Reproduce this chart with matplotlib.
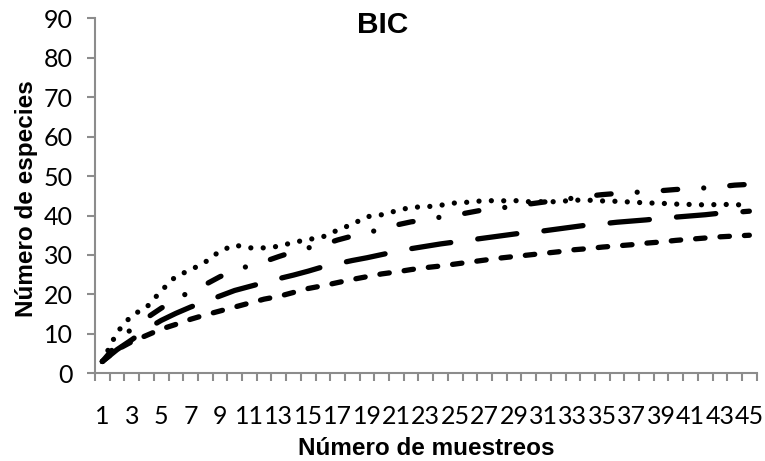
import matplotlib
matplotlib.use("Agg")
import matplotlib.pyplot as plt

# data (BIC)
muestreos = list(range(1, 46))

serie_puntos = [3, 10.4, 14.7, 16.7, 20.9, 24.6, 26.2, 28.2, 31.0, 32.5,
                31.8, 31.8, 32.2, 33.2, 33.9, 34.6, 36.3, 37.8, 39.7, 40.2,
                41.2, 42.1, 42.2, 42.6, 43.2, 43.4, 43.8, 43.7, 43.8, 43.5,
                43.5, 43.5, 43.9, 43.9, 43.7, 43.6, 43.4, 43.2, 43.1, 42.9,
                42.8, 42.7, 42.8, 42.8, 42.5]

serie_raya_punto = [3, 7.4, 11.4, 14.0, 16.5, 18.8, 20.7, 22.5, 24.5, 26.0,
                    27.3, 28.3, 29.6, 30.8, 31.8, 32.6, 33.8, 34.8, 35.6, 36.6,
                    37.6, 38.4, 38.9, 39.6, 40.1, 40.8, 41.5, 41.9, 42.3, 42.9,
                    43.4, 43.9, 44.4, 44.9, 45.3, 45.6, 45.8, 46.1, 46.3, 46.6,
                    46.8, 47.0, 47.3, 47.7, 47.9]

serie_raya_larga = [3, 6.0, 8.5, 11.2, 13.4, 15.2, 16.8, 18.2, 19.6, 21.0,
                    22.0, 23.0, 24.0, 24.9, 25.9, 27.0, 27.8, 28.6, 29.3, 30.1,
                    30.9, 31.6, 32.2, 32.8, 33.3, 33.8, 34.3, 34.8, 35.3, 35.8,
                    36.1, 36.6, 37.1, 37.6, 37.9, 38.3, 38.6, 38.9, 39.3, 39.6,
                    39.9, 40.2, 40.6, 40.8, 41.1]

serie_raya = [3, 6.0, 8.0, 9.6, 11.2, 12.4, 13.7, 14.8, 15.8, 16.8,
              17.8, 18.8, 19.5, 20.5, 21.5, 22.2, 23.0, 23.8, 24.5, 25.2,
              25.7, 26.3, 26.8, 27.2, 27.7, 28.2, 28.7, 29.2, 29.6, 30.0,
              30.4, 30.8, 31.3, 31.6, 32.0, 32.3, 32.6, 33.0, 33.3, 33.7,
              34.0, 34.3, 34.6, 34.8, 35.0]

etiquetas_x = [str(m) for m in muestreos if m % 2 == 1]

plt.rcParams['lines.scale_dashes'] = False

fig = plt.figure(figsize=(7.65, 4.61), dpi=100)
ax = fig.add_axes([95 / 765, 1 - 373.3 / 461, 661.7 / 765, 355 / 461])

lw = 3.8
estilos = [
    (serie_puntos, (0, (0.01, 8.9))),
    (serie_raya_punto, (0, (10.4, 18.8, 0.01, 18.8))),
    (serie_raya_larga, (0, (28.4, 19.6))),
    (serie_raya, (0, (6.8, 10.8))),
]
for valores, dash in estilos:
    ax.plot(muestreos, valores, color='black', linewidth=lw, linestyle=dash,
            dash_capstyle='round', solid_capstyle='round', clip_on=False)

ax.set_xlim(0.5, 45.5)
ax.set_ylim(0, 90)

# category axis: ticks between categories, labels on odd categories
ax.set_xticks([m + 0.5 for m in range(0, 46)])
ax.set_xticklabels([])
ax.set_xticks([m for m in muestreos if m % 2 == 1], minor=True)
ax.set_xticklabels(etiquetas_x, minor=True)
ax.set_yticks(range(0, 91, 10))

gris = '#8c8c8c'
for lado in ['top', 'right']:
    ax.spines[lado].set_visible(False)
for lado in ['left', 'bottom']:
    ax.spines[lado].set_color(gris)
    ax.spines[lado].set_linewidth(1.5)

ax.tick_params(axis='both', which='major', direction='out', length=5.8,
               width=1.5, color=gris)
ax.tick_params(axis='x', which='minor', length=0, pad=23)
ax.tick_params(axis='y', which='major', pad=10)
for lbl in ax.get_xticklabels(minor=True) + ax.get_yticklabels():
    lbl.set_fontfamily('Lato')
    lbl.set_fontsize(18)
    lbl.set_color('black')

fig.text(383 / 765, 1 - 33.3 / 461, 'BIC', ha='center', va='baseline',
         fontsize=21.5, fontweight='bold', family='Liberation Sans')
fig.text(426 / 765, 6 / 461, 'Número de muestreos', ha='center', va='baseline',
         fontsize=17.5, fontweight='bold', family='Liberation Sans')
fig.text(27 / 765, 1 - 199 / 461, 'Número de especies', ha='center', va='center',
         rotation=90, fontsize=17.5, fontweight='bold', family='Liberation Sans')

fig.savefig('out.png', dpi=100)
